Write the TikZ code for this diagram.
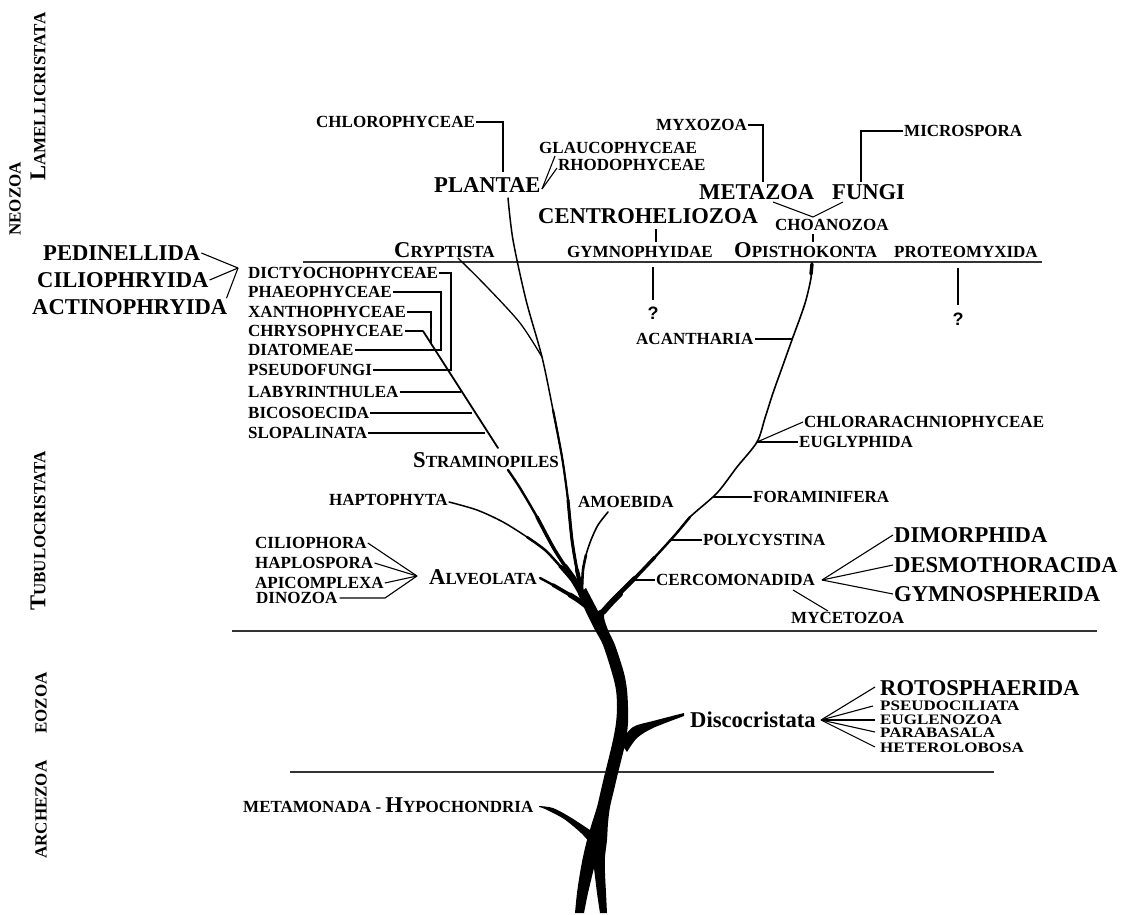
\documentclass[tikz,border=0pt]{standalone}
\usepackage{graphicx}
\usepackage{fontspec}
\setmainfont{Liberation Serif}
\newfontfamily\qfont{Liberation Sans}
\newcommand{\SCap}[2]{{\fontsize{22.6}{22.6}\selectfont #1}#2}
\newcommand{\squash}[1]{\scalebox{1}[0.85]{#1}}
\begin{document}
\begin{tikzpicture}[x=1pt,y=-1pt,
  sm/.style={font=\fontsize{17}{17}\selectfont\bfseries, inner sep=1pt, anchor=west},
  bg/.style={font=\fontsize{22.6}{22.6}\selectfont\bfseries, inner sep=1pt, anchor=west},
  tight/.style={inner sep=0pt},
  vt/.style={sm, rotate=90},
  ln/.style={line width=1.1pt},
  rl/.style={line width=1.4pt, black!80},
  br/.style={line cap=round, line join=round, black},
  qm/.style={font=\qfont\fontsize{18}{18}\bfseries\selectfont, inner sep=0pt},
]
\useasboundingbox (0,0) rectangle (1133,915);

% ---------- vertical side labels
\node[vt] (neozoa) at (15,237) {NEOZOA};
\node[vt] (lamelli) at (38,182) {\SCap{L}{AMELLICRISTATA}};
\node[vt] (tubulo) at (38,612) {\SCap{T}{UBULOCRISTATA}};
\node[vt] (eozoa) at (41,735) {EOZOA};
\node[vt] (archezoa) at (41,860) {ARCHEZOA};

% ---------- top labels
\node[sm] (chloro) at (315,122) {CHLOROPHYCEAE};
\node[sm] (glauco) at (538,148) {GLAUCOPHYCEAE};
\node[sm] (rhodo) at (557,165) {RHODOPHYCEAE};
\node[bg] (plantae) at (433,185) {PLANTAE};
\node[sm] (myxo) at (655,125) {MYXOZOA};
\node[sm] (micro) at (903,131) {MICROSPORA};
\node[bg] (metazoa) at (698,192) {METAZOA};
\node[bg] (fungi) at (831,192) {FUNGI};
\node[bg] (centro) at (537,216) {CENTROHELIOZOA};
\node[sm] (choano) at (774,225) {CHOANOZOA};
\node[sm] (crypt) at (393,250) {\SCap{C}{RYPTISTA}};
\node[sm] (gymno) at (566,252) {GYMNOPHYIDAE};
\node[sm] (opistho) at (733,250) {\SCap{O}{PISTHOKONTA}};
\node[sm] (proteo) at (893,252) {PROTEOMYXIDA};

% ---------- left group
\node[bg] (pedin) at (42,253) {PEDINELLIDA};
\node[bg] (cilioph) at (36,280) {CILIOPHRYIDA};
\node[bg] (actino) at (31,307) {ACTINOPHRYIDA};

\node[sm] (dict) at (247,273) {DICTYOCHOPHYCEAE};
\node[sm] (phaeo) at (247,292) {PHAEOPHYCEAE};
\node[sm] (xantho) at (247,312) {XANTHOPHYCEAE};
\node[sm] (chryso) at (247,331) {CHRYSOPHYCEAE};
\node[sm] (diatom) at (247,350) {DIATOMEAE};
\node[sm] (pseudof) at (247,370) {PSEUDOFUNGI};
\node[sm] (labyr) at (247,392) {LABYRINTHULEA};
\node[sm] (bicos) at (247,413) {BICOSOECIDA};
\node[sm] (slopal) at (247,433) {SLOPALINATA};

\node[sm] (strami) at (412,460) {\SCap{S}{TRAMINOPILES}};
\node[sm] (hapto) at (328,500) {HAPTOPHYTA};
\node[sm] (amoeb) at (577,502) {AMOEBIDA};
\node[sm] (ciliophora) at (254,543) {CILIOPHORA};
\node[sm] (haplo) at (254,563) {HAPLOSPORA};
\node[sm, tight] (apico) at (255,583) {APICOMPLEXA};
\node[sm, tight] (dinoz) at (256,598) {DINOZOA};
\node[sm] (alveo) at (428,577) {\SCap{A}{LVEOLATA}};

% ---------- right group
\node[qm] (q1) at (653,313) {?};
\node[qm] (q2) at (958,319) {?};
\node[sm] (acanth) at (635,339) {ACANTHARIA};
\node[sm] (chlorar) at (803,422) {CHLORARACHNIOPHYCEAE};
\node[sm] (eugly) at (798,442) {EUGLYPHIDA};
\node[sm] (foram) at (752,497) {FORAMINIFERA};
\node[sm] (polyc) at (702,540) {POLYCYSTINA};
\node[sm] (cercom) at (655,580) {CERCOMONADIDA};
\node[sm] (mycet) at (790,618) {MYCETOZOA};
\node[bg] (dimorph) at (893,535) {DIMORPHIDA};
\node[bg] (desmo) at (893,565) {DESMOTHORACIDA};
\node[bg] (gymnosph) at (893,594) {GYMNOSPHERIDA};

% ---------- Eozoa
\node[bg] (disco) at (689,720) {Discocristata};
\node[bg, tight] (rotos) at (880,688) {ROTOSPHAERIDA};
\node[sm, tight] (pseudoc) at (880,706) {\squash{PSEUDOCILIATA}};
\node[sm, tight] (euglen) at (880,720) {\squash{EUGLENOZOA}};
\node[sm, tight] (parab) at (880,733) {\squash{PARABASALA}};
\node[sm, tight] (hetero) at (880,748) {\squash{HETEROLOBOSA}};

% ---------- Archezoa
\node[sm] (metamon) at (242,805) {METAMONADA - \SCap{H}{YPOCHONDRIA}};

% ---------- horizontal rules
\coordinate (r1a) at (303,262); \coordinate (r1b) at (1042,262);
\coordinate (r2a) at (232,631); \coordinate (r2b) at (1097,631);
\coordinate (r3a) at (290,772); \coordinate (r3b) at (994,772);
\draw[rl] (r1a) -- (r1b);
\draw[rl] (r2a) -- (r2b);
\draw[rl] (r3a) -- (r3b);

% ---------- top connectors
\coordinate (cchl) at (503,172);
\coordinate (cmyx) at (763,182);
\coordinate (cmic) at (861,182);
\draw[ln] (chloro.east) -| (cchl);
\draw[ln] (myxo.east) -| (cmyx);
\draw[ln] (micro.west) -| (cmic);
\coordinate (pl) at (542,189);
\coordinate (plg) at (555,156);
\coordinate (plr) at (557,168);
\draw[ln] (pl) -- (plg);
\draw[ln] (pl) -- (plr);
\coordinate (cg1) at (656,229); \coordinate (cg2) at (656,242);
\draw[ln] (cg1) -- (cg2);
\coordinate (mz) at (773,202); \coordinate (ch) at (813,217); \coordinate (fg) at (843,202);
\draw[ln] (mz) -- (ch) -- (fg);
\coordinate (co1) at (813,234); \coordinate (co2) at (813,242);
\draw[ln] (co1) -- (co2);
\coordinate (qa) at (653,267); \coordinate (qb) at (653,300);
\draw[ln] (qa) -- (qb);
\coordinate (qc) at (958,268); \coordinate (qd) at (958,305);
\draw[ln] (qc) -- (qd);

% ---------- Pedinellida group
\coordinate (pap) at (238,268);
\draw[ln] (pedin.east) -- (pap);
\draw[ln] (cilioph.east) -- (pap);
\draw[ln] ([xshift=-2pt]actino.north east) -- (pap);

% ---------- stramenopile brackets
\coordinate (b1) at (451,370);
\coordinate (b2) at (441,350);
\coordinate (b3) at (431,344);
\coordinate (s1) at (423,331);
\coordinate (s2) at (498,448);
\draw[ln] (dict.east) -| (b1) -- (pseudof.east);
\draw[ln] (phaeo.east) -| (b2) -- (diatom.east);
\draw[ln] (xantho.east) -| (b3);
\draw[ln] (chryso.east) -- (s1);
\draw[br, line width=1.8pt] (s1) -- (s2);
\coordinate (d1) at (461,392); \coordinate (d2) at (472,413); \coordinate (d3) at (485,433);
\draw[ln] (labyr.east) -- (d1);
\draw[ln] (bicos.east) -- (d2);
\draw[ln] (slopal.east) -- (d3);

% ---------- Alveolata group
\coordinate (aap) at (417,576);
\coordinate (adz) at (385,598);
\draw[ln] (ciliophora.east) -- (aap);
\draw[ln] (haplo.east) -- (aap);
\draw[ln] ([xshift=1pt]apico.east) -- (aap);
\draw[ln] ([xshift=2pt]dinoz.east) -- (adz) -- (aap);

% ---------- right side connectors
\coordinate (oa) at (792,339);
\draw[ln] (acanth.east) -- (oa);
\coordinate (cj) at (757,442);
\draw[ln] (cj) -- (chlorar.west);
\draw[ln] (cj) -- (eugly.west);
\coordinate (of) at (713,497);
\draw[ln] (of) -- (foram.west);
\coordinate (op) at (670,540);
\draw[ln] (op) -- (polyc.west);
\coordinate (oc) at (633,580);
\draw[ln] (oc) -- (cercom.west);
\coordinate (cap) at (822,580);
\draw[ln] (cap) -- (dimorph.west);
\draw[ln] (cap) -- (desmo.west);
\draw[ln] (cap) -- (gymnosph.west);
\coordinate (my1) at (793,590); \coordinate (my2) at (828,611);
\draw[ln] (my1) -- (my2);

% ---------- Discocristata group
\coordinate (dap) at (821,720);
\draw[ln] (dap) -- ([xshift=-5pt,yshift=1pt]rotos.west);
\draw[ln] (dap) -- ([xshift=-7pt]pseudoc.west);
\draw[ln] (dap) -- ([xshift=-5pt]euglen.west);
\draw[ln] (dap) -- ([xshift=-5pt,yshift=1pt]parab.west);
\draw[ln] (dap) -- ([xshift=-5pt,yshift=1pt]hetero.west);

% ---------- tree branches
% Cryptista
\draw[br, line width=1.3pt] plot[smooth] coordinates {(458,258)(487,287)(520,323)(542,357)};
% Plantae
\draw[br, line width=1.5pt] plot[smooth] coordinates {(508,198)(513,240)(526,300)(542,357)(553,410)(562,457)(568,500)(572,540)(577,570)(582,592)};
\draw[br, line width=2.2pt] plot[smooth] coordinates {(553,410)(562,457)(568,500)(572,540)(577,570)(582,592)};
\draw[br, line width=3pt] plot[smooth] coordinates {(568,500)(572,540)(577,570)(582,592)};
\draw[br, line width=4pt] plot[smooth] coordinates {(577,570)(582,592)};
% Straminopiles lower
\draw[br, line width=2.4pt] plot[smooth] coordinates {(508,470)(520,488)(537,517)(553,547)(565,566)(575,580)(584,597)};
\draw[br, line width=3.4pt] plot[smooth] coordinates {(537,517)(553,547)(565,566)(575,580)(584,597)};
\draw[br, line width=4.6pt] plot[smooth] coordinates {(565,566)(575,580)(584,597)};
% Haptophyta
\draw[br, line width=1.5pt] plot[smooth] coordinates {(449,502)(477,510)(503,522)(527,537)(545,550)(560,566)(572,580)(582,597)};
\draw[br, line width=2.5pt] plot[smooth] coordinates {(527,537)(545,550)(560,566)(572,580)(582,597)};
\draw[br, line width=3.6pt] plot[smooth] coordinates {(560,566)(572,580)(582,597)};
% Amoebida
\draw[br, line width=1.6pt] plot[smooth] coordinates {(608,512)(598,525)(591,540)(586,555)(583,570)(582,590)};
\draw[br, line width=2.6pt] plot[smooth] coordinates {(586,555)(583,570)(582,590)};
% Alveolata
\draw[br, line width=2.4pt] plot[smooth] coordinates {(540,578)(553,585)(565,592)(575,598)(586,606)};
\draw[br, line width=3.6pt] plot[smooth] coordinates {(553,585)(565,592)(575,598)(586,606)};
\draw[br, line width=5pt] plot[smooth] coordinates {(570,595)(578,600)(586,606)};
% Opisthokonta
\draw[br, line width=1.6pt] plot[smooth] coordinates {(812,263)(811,278)(806,300)(800,318)(793,337)(783,365)(773,393)(765,418)(757,442)(737,467)(717,493)(690,517)(675,535)(655,557)(635,578)(618,595)(604,610)};
\draw[br, line width=3.4pt] (812,264) -- (811,274);
\draw[br, line width=2.4pt] plot[smooth] coordinates {(690,517)(675,535)(655,557)(635,578)(618,595)(604,610)};
\draw[br, line width=3.4pt] plot[smooth] coordinates {(655,557)(635,578)(618,595)(604,610)};
\draw[br, line width=4.6pt] plot[smooth] coordinates {(635,578)(618,595)(604,610)};
\draw[br, line width=6pt] plot[smooth] coordinates {(620,594)(611,603)(603,612)};

% trunk
\fill[black] plot[smooth] coordinates {(578,594)(586,612)(595,630)(603,645)(612,673)(616,690)(617,707)(616,723)(613,740)(609,757)(605,773)(601,790)(597,807)(592,823)(587,840)(583,857)(580,873)(577,893)(575,913)}
  -- (584,913) -- plot[smooth] coordinates {(584,913)(588,893)(594,868)}
  -- plot[smooth] coordinates {(594,868)(597,893)(600,913)}
  -- (607,913) -- plot[smooth] coordinates {(607,913)(606,893)(605,873)(605,857)(607,840)(608,823)(610,807)(614,790)(618,773)(622,757)(626,740)(628,723)(628,707)(627,690)(624,673)(615,645)(608,630)(604,617)(606,607)}
  -- (598,611) -- (586,588) -- cycle;
% Discocristata branch
\fill[black] plot[smooth] coordinates {(620,742)(633,727)(653,721)(684,713)}
  -- plot[smooth] coordinates {(684,716)(653,728)(637,738)(627,752)} -- cycle;
% Metamonada branch
\fill[black] plot[smooth] coordinates {(539,806)(553,808)(570,817)(590,830)}
  -- plot[smooth] coordinates {(592,845)(581,833)(564,819)(545,809)(539,807)} -- cycle;
\end{tikzpicture}
\end{document}
